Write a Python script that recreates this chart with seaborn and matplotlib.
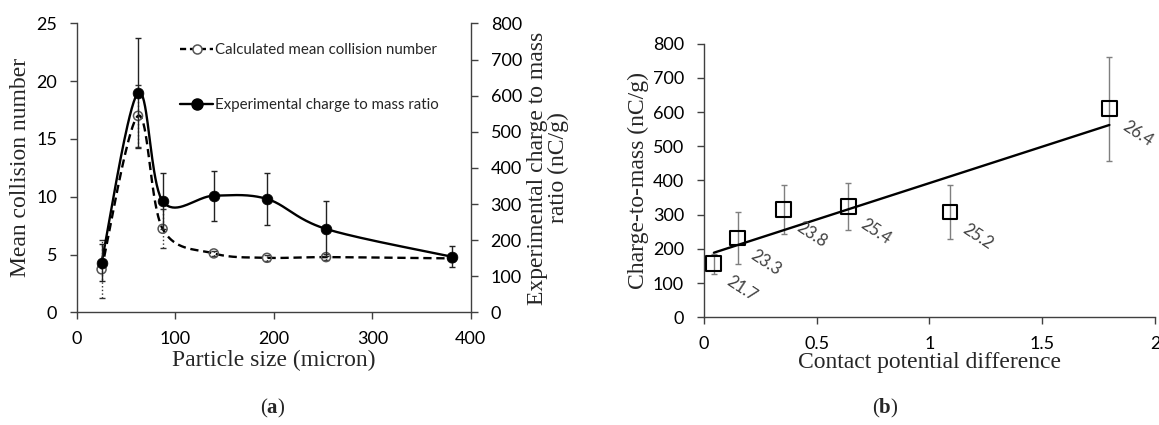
import numpy as np
import matplotlib
matplotlib.use("Agg")
import matplotlib.pyplot as plt
from matplotlib.lines import Line2D
import seaborn as sns

# ---- panel (a): particle size series ----
size_um = [25, 62, 87, 139, 193, 253, 381]
collision_calc = [3.72, 17.0, 7.23, 5.10, 4.72, 4.78, 4.67]
collision_err = [2.5, 2.7, 1.7, 0.25, 0.25, 0.25, 0.25]
charge_exp = [138, 608, 308, 323, 314, 231, 154]
charge_exp_err = [52, 152, 78, 69, 72, 76, 29]

# ---- panel (b): contact potential difference series ----
cpd = [0.044, 0.149, 0.354, 0.640, 1.091, 1.798]
charge_mass = [157, 232, 315, 323, 308, 610]
charge_mass_err = [29, 76, 72, 69, 78, 152]
point_labels = ["21.7", "23.3", "23.8", "25.4", "25.2", "26.4"]

sns.set_theme(style="ticks")
SANS = ["Lato", "DejaVu Sans"]
SERIF = ["Liberation Serif", "DejaVu Serif"]
plt.rcParams["font.family"] = SANS
plt.rcParams["mathtext.fontset"] = "custom"
plt.rcParams["mathtext.rm"] = "Liberation Serif"
plt.rcParams["mathtext.bf"] = "Liberation Serif:bold"

SPINE = "#404040"
TICK_FS = 13
LABEL_FS = 17


def smooth_curve(x, y, n=40):
    """Piecewise cubic Bezier through the points (Catmull-Rom style tangents)."""
    P = np.column_stack([x, y]).astype(float)
    out = []
    for i in range(len(P) - 1):
        p0 = P[i - 1] if i > 0 else P[i]
        p1, p2 = P[i], P[i + 1]
        p3 = P[i + 2] if i + 2 < len(P) else P[i + 1]
        c1 = p1 + (p2 - p0) / 6.0
        c2 = p2 - (p3 - p1) / 6.0
        t = np.linspace(0, 1, n)[:, None]
        seg = (1 - t) ** 3 * p1 + 3 * (1 - t) ** 2 * t * c1 + 3 * (1 - t) * t ** 2 * c2 + t ** 3 * p2
        out.append(seg if i == 0 else seg[1:])
    pts = np.vstack(out)
    return pts[:, 0], pts[:, 1]


def style_axis(ax):
    for s in ax.spines.values():
        s.set_color(SPINE)
        s.set_linewidth(1.0)
    ax.tick_params(direction="out", length=5.3, width=1.0, color=SPINE,
                   labelsize=TICK_FS, labelcolor="black", pad=9)
    ax.tick_params(axis="x", pad=8)
    for lab in ax.get_xticklabels() + ax.get_yticklabels():
        lab.set_family(SANS)


fig = plt.figure(figsize=(11.59, 4.25), dpi=100)

# ================= panel (a) =================
ax = fig.add_axes([0.0664, 0.265, 0.3398, 0.680])
ax2 = ax.twinx()

# calculated mean collision number (left axis)
cx, cy = smooth_curve(size_um, collision_calc)
ax.plot(cx, cy, color="black", lw=1.7, ls=(0, (3.5, 2.0)), zorder=2)
eb = ax.errorbar(size_um, collision_calc, yerr=collision_err, fmt="none",
                 ecolor="#333333", elinewidth=1.0, capsize=2.2, capthick=1.0, zorder=2)
for c in eb.lines[2]:
    c.set_linestyle(":")
sns.scatterplot(x=size_um, y=collision_calc, ax=ax, marker="o", s=42,
                facecolor="none", edgecolor="#555555", linewidth=1.1, zorder=3)

# experimental charge to mass ratio (right axis)
ex, ey = smooth_curve(size_um, charge_exp)
ax2.plot(ex, ey, color="black", lw=1.7, zorder=2)
ax2.errorbar(size_um, charge_exp, yerr=charge_exp_err, fmt="none",
             ecolor="#222222", elinewidth=1.0, capsize=2.2, capthick=1.0, zorder=2)
sns.scatterplot(x=size_um, y=charge_exp, ax=ax2, marker="o", s=60,
                color="black", edgecolor="black", linewidth=0.5, zorder=4)

ax.set_xlim(0, 400)
ax.set_ylim(0, 25)
ax2.set_ylim(0, 800)
ax.set_xticks(range(0, 401, 100))
ax.set_yticks(range(0, 26, 5))
ax2.set_yticks(range(0, 801, 100))

for a in (ax, ax2):
    a.spines["top"].set_visible(False)
    style_axis(a)
ax.spines["right"].set_visible(False)
ax2.spines["left"].set_visible(False)
ax2.spines["bottom"].set_visible(False)

ax.set_xlabel("Particle size (micron)", family=SERIF, fontsize=LABEL_FS, labelpad=2)
ax.set_ylabel("Mean collision number", family=SERIF, fontsize=LABEL_FS, labelpad=4)
ax2.set_ylabel("Experimental charge to mass\nratio (nC/g)", family=SERIF,
               fontsize=LABEL_FS, labelpad=4, linespacing=0.95)

handles = [
    Line2D([], [], color="black", lw=1.7, ls=(0, (2.6, 1.6)), marker="o", ms=6.5,
           mfc="white", mec="#555555", mew=1.1),
    Line2D([], [], color="black", lw=1.7, marker="o", ms=8, mfc="black", mec="black"),
]
ax2.legend(handles, ["Calculated mean collision number", "Experimental charge to mass ratio"],
           loc="upper left", bbox_to_anchor=(0.247, 0.952), frameon=False,
           prop={"family": SANS, "size": 10.8}, handlelength=2.2, handletextpad=0.1,
           labelspacing=2.75, borderaxespad=0)

# ================= panel (b) =================
bx = fig.add_axes([0.6074, 0.2534, 0.3891, 0.6438])

bx.errorbar(cpd, charge_mass, yerr=charge_mass_err, fmt="none",
            ecolor="#7f7f7f", elinewidth=1.0, capsize=2.5, capthick=1.0, zorder=2)
sns.regplot(x=cpd, y=charge_mass, ax=bx, scatter=False, ci=None, truncate=True,
            line_kws={"color": "black", "lw": 1.7, "zorder": 3})
sns.scatterplot(x=cpd, y=charge_mass, ax=bx, marker="s", s=115,
                facecolor="none", edgecolor="black", linewidth=1.5, zorder=4)

for xv, yv, lab in zip(cpd, charge_mass, point_labels):
    bx.annotate(lab, (xv, yv), xytext=(20, -18), textcoords="offset points",
                ha="center", va="center", rotation=-33, rotation_mode="anchor",
                fontsize=12, color="#404040", family=SANS)

bx.set_xlim(0, 2)
bx.set_ylim(0, 800)
bx.set_xticks([0, 0.5, 1, 1.5, 2])
bx.set_xticklabels(["0", "0.5", "1", "1.5", "2"])
bx.set_yticks(range(0, 801, 100))
bx.spines["top"].set_visible(False)
bx.spines["right"].set_visible(False)
style_axis(bx)
bx.set_xlabel("Contact potential difference", family=SERIF, fontsize=LABEL_FS, labelpad=0)
bx.set_ylabel("Charge-to-mass (nC/g)", family=SERIF, fontsize=LABEL_FS, labelpad=3)

# panel captions
fig.text(273 / 1159, 1 - 408 / 425, r"$\mathrm{(}\mathbf{a}\mathrm{)}$", ha="center",
         va="center", fontsize=15)
fig.text(885 / 1159, 1 - 408 / 425, r"$\mathrm{(}\mathbf{b}\mathrm{)}$", ha="center",
         va="center", fontsize=15)

fig.savefig("out.png", dpi=100)
